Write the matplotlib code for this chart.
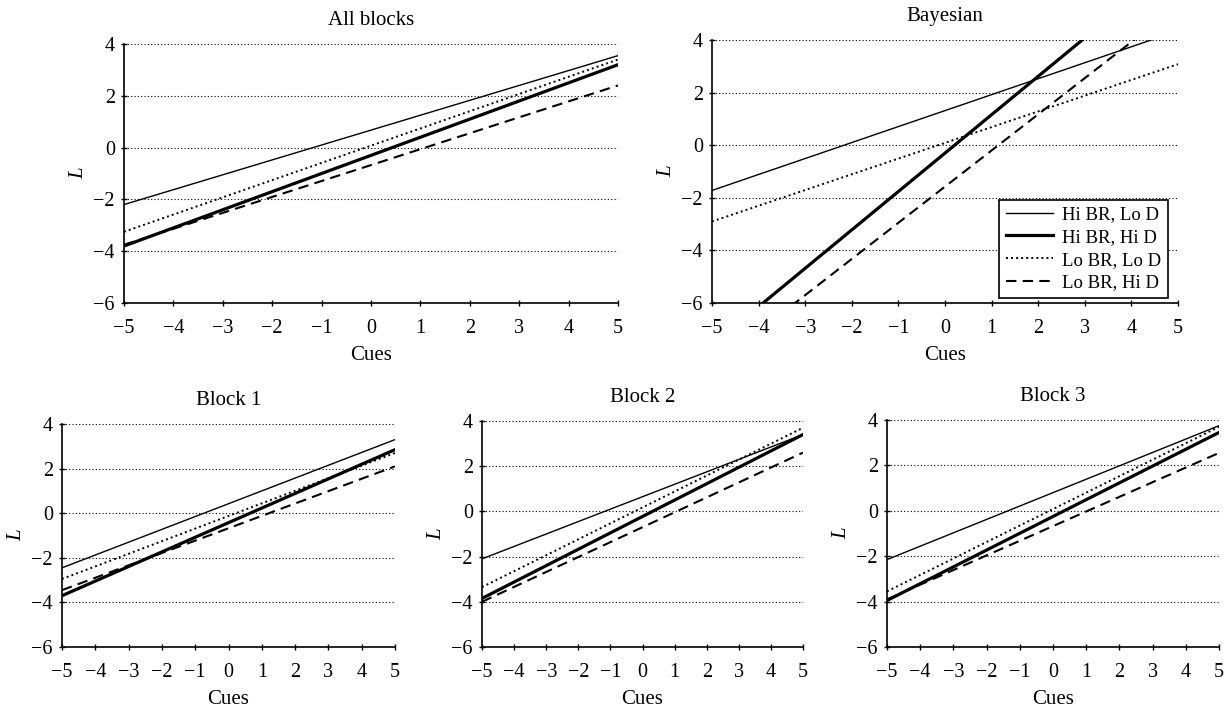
import matplotlib
matplotlib.use('Agg')
import matplotlib.pyplot as plt

plt.rcParams['font.family'] = ['Liberation Serif', 'DejaVu Serif']
plt.rcParams['axes.unicode_minus'] = True

# line values at cues = -5 and cues = 5
cues = [-5, 5]
series_names = ['Hi BR, Lo D', 'Hi BR, Hi D', 'Lo BR, Lo D', 'Lo BR, Hi D']

all_blocks = [[-2.2, 3.55], [-3.8, 3.2], [-3.25, 3.4], [-3.75, 2.4]]
bayesian = [[-1.72, 4.35], [-7.6, 7.0], [-2.9, 3.08], [-8.45, 5.3]]
block1 = [[-2.45, 3.3], [-3.7, 2.85], [-2.95, 2.7], [-3.45, 2.1]]
block2 = [[-2.1, 3.4], [-3.85, 3.4], [-3.35, 3.7], [-4.0, 2.6]]
block3 = [[-2.15, 3.75], [-3.95, 3.45], [-3.55, 3.7], [-3.9, 2.55]]

styles = [
    dict(color='black', lw=1.0, ls='-'),
    dict(color='black', lw=2.3, ls='-'),
    dict(color='black', lw=1.4, ls=(0, (1, 1.6))),
    dict(color='black', lw=1.5, ls=(0, (5, 3))),
]

fig = plt.figure(figsize=(12.28, 7.10), dpi=100)
W, H = 1228, 710


def add_axes(x0, y0, x1, y1):
    return fig.add_axes([x0 / W, 1 - y1 / H, (x1 - x0) / W, (y1 - y0) / H])


panels = [
    ('All blocks', all_blocks, (124, 44, 618, 303)),
    ('Bayesian', bayesian, (712, 40, 1178, 303)),
    ('Block 1', block1, (62, 424, 395, 647)),
    ('Block 2', block2, (482, 421, 803, 647)),
    ('Block 3', block3, (887, 420, 1219, 647)),
]

for title, data, box in panels:
    ax = add_axes(*box)
    for vals, st, name in zip(data, styles, series_names):
        ax.plot(cues, vals, label=name, **st)
    ax.set_xlim(-5, 5)
    ax.set_ylim(-6, 4)
    ax.set_xticks(range(-5, 6))
    ax.set_yticks(range(-6, 5, 2))
    ax.yaxis.grid(True, color='black', ls=(0, (1, 2)), lw=0.8)
    ax.set_axisbelow(True)
    for s in ['top', 'right']:
        ax.spines[s].set_visible(False)
    for s in ['left', 'bottom']:
        ax.spines[s].set_linewidth(1.2)
    ax.tick_params(direction='inout', length=5, width=1.0, labelsize=14.5)
    ax.tick_params(axis='x', pad=9)
    ax.tick_params(axis='y', pad=4)
    ax.set_title(title, fontsize=15, pad=14)
    ax.set_xlabel('Cues', fontsize=15, labelpad=6)
    ax.set_ylabel('L', fontsize=15, style='italic', labelpad=4)
    if title == 'Bayesian':
        leg = ax.legend(loc='lower right', fontsize=13.5, frameon=True,
                        fancybox=False, edgecolor='black', framealpha=1,
                        handlelength=2.5, handletextpad=0.5,
                        borderpad=0.35, labelspacing=0.3,
                        borderaxespad=0, bbox_to_anchor=(0.9785, 0.019))
        leg.get_frame().set_linewidth(1.2)

fig.savefig('out.png', dpi=100)
